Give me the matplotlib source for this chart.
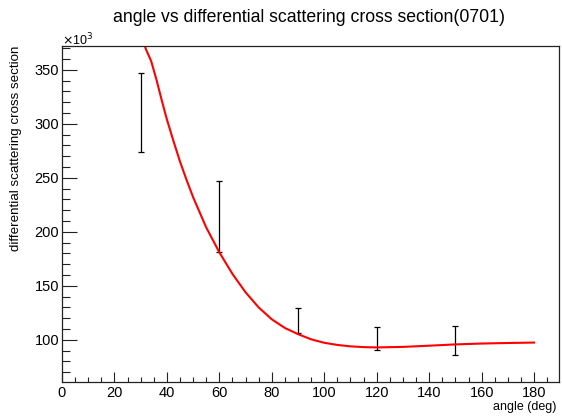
import matplotlib
matplotlib.use("Agg")
import matplotlib.pyplot as plt
from matplotlib.ticker import MultipleLocator

plt.rcParams['font.family'] = ['Liberation Sans', 'DejaVu Sans']

# measured points (values in units of 10^3)
angle = [30, 60, 90, 120, 150]
sigma = [310.4, 214.6, 118.0, 101.1, 99.7]
sigma_err = [36.7, 32.9, 11.3, 10.6, 13.5]

# fit curve
fit_angle = [30, 32, 34, 36, 38, 40, 42.5, 45, 47.5, 50, 55, 60, 65, 70, 75, 80, 85, 90,
             95, 100, 105, 110, 115, 120, 130, 140, 150, 160, 170, 180]
fit_sigma = [385, 369, 358, 341, 322, 304, 284, 265, 248, 232, 204, 181, 161, 144, 130, 119,
             111, 105.3, 100.5, 97.3, 95.3, 94, 93.3, 93, 93.5, 94.6, 95.8, 96.6, 97.1, 97.5]

fig = plt.figure(figsize=(5.62, 4.17), dpi=100)
ax = fig.add_axes([62/562, 1-382/417, (559-62)/562, (382-46)/417])

ax.errorbar(angle, sigma, yerr=sigma_err, fmt='none', ecolor='black',
            elinewidth=0.9, capsize=2, capthick=0.9)
ax.plot(fit_angle, fit_sigma, color='red', lw=1.5)

ax.set_xlim(0, 189.5)
ax.set_ylim(61, 372)

ax.xaxis.set_major_locator(MultipleLocator(20))
ax.xaxis.set_minor_locator(MultipleLocator(5))
ax.yaxis.set_major_locator(MultipleLocator(50))
ax.yaxis.set_minor_locator(MultipleLocator(10))
ax.tick_params(axis='both', which='both', direction='in', top=False, right=False,
               labelsize=10.5, width=0.8, color='#222222')
ax.tick_params(axis='x', which='major', length=7, pad=3)
ax.tick_params(axis='x', which='minor', length=3.5)
ax.tick_params(axis='y', which='major', length=11, pad=2)
ax.tick_params(axis='y', which='minor', length=6)
for s in ax.spines.values():
    s.set_linewidth(0.9)
    s.set_color('#222222')

fig.text(309/562, 1-18/417, "angle vs differential scattering cross section(0701)",
         ha='center', va='center', fontsize=12.7)
fig.text(16/562, 1-46/417, "differential scattering cross section", rotation=90,
         ha='center', va='top', fontsize=9.6)
fig.text(556/562, 1-407/417, "angle (deg)", ha='right', va='center', fontsize=9)
fig.text(62/562, 1-45/417, r"$\times$10$^3$", ha='left', va='baseline', fontsize=9)

fig.savefig("out.png", dpi=100)
